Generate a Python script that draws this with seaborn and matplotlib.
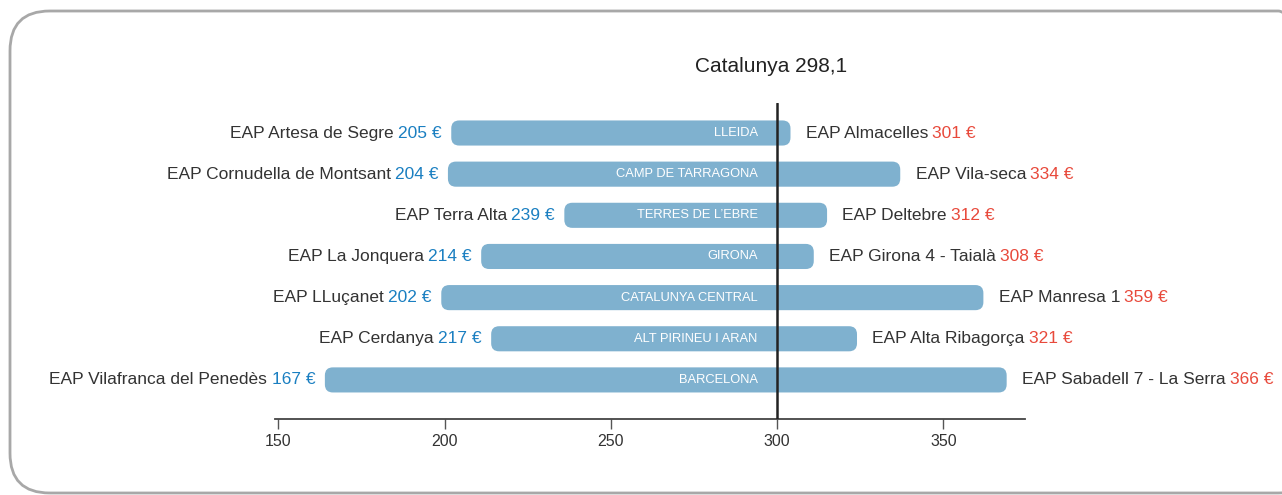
import matplotlib
matplotlib.use("Agg")
from matplotlib import pyplot as plt
from matplotlib.patches import FancyBboxPatch
import pandas as pd
import seaborn as sns

regions = ["LLEIDA", "CAMP DE TARRAGONA", "TERRES DE L\u2019EBRE", "GIRONA",
           "CATALUNYA CENTRAL", "ALT PIRINEU I ARAN", "BARCELONA"]
min_names = ["EAP Artesa de Segre", "EAP Cornudella de Montsant", "EAP Terra Alta",
             "EAP La Jonquera", "EAP LLuçanet", "EAP Cerdanya", "EAP Vilafranca del Penedès"]
min_vals = [205, 204, 239, 214, 202, 217, 167]
max_names = ["EAP Almacelles", "EAP Vila-seca", "EAP Deltebre", "EAP Girona 4 - Taialà",
             "EAP Manresa 1", "EAP Alta Ribagorça", "EAP Sabadell 7 - La Serra"]
max_vals = [301, 334, 312, 308, 359, 321, 366]
cat_label = "Catalunya 298,1"
cat_avg = 298.1
ref_line = 300
ticks = [150, 200, 250, 300, 350]

df = pd.DataFrame({"region": regions, "min_name": min_names, "min": min_vals,
                   "max_name": max_names, "max": max_vals})

sns.set_style("white")
plt.rcParams["font.family"] = ["Liberation Sans", "DejaVu Sans"]

bar_col = "#7fb1cf"
blue = "#1a7fc1"
red = "#e8493b"
dark = "#333333"
pad = 3

fig = plt.figure(figsize=(12.82, 4.95), dpi=100)
ax = fig.add_axes([0.2145, 0.1535, 0.585, 0.6385])

# rounded frame around the whole figure (runs past the right edge)
frame = FancyBboxPatch((10 / 1282, 2 / 495), 1308 / 1282, 482 / 495,
                       boxstyle="round,pad=0,rounding_size=0.031",
                       mutation_aspect=1282 / 495, transform=fig.transFigure,
                       fc="none", ec="#a8a8a8", lw=2, clip_on=False)
fig.patches.append(frame)

ax.set_xlim(149, 374.5)
ax.set_ylim(6.95, -0.73)

y = range(len(df))
bars = ax.barh(list(y), df["max"] - df["min"] + 2 * pad, left=df["min"] - pad,
               height=0.61, color=bar_col)
asp = 3.325 / 41.17
for b in bars:
    rb = FancyBboxPatch((b.get_x(), b.get_y()), b.get_width(), b.get_height(),
                        boxstyle="round,pad=0,rounding_size=2.4",
                        mutation_aspect=asp, fc=bar_col, ec="none", zorder=2)
    ax.add_patch(rb)
    b.remove()

ax.axvline(ref_line, color="#222222", lw=1.8, zorder=3)

fs = 12.5
for i, r in df.iterrows():
    lv = ax.annotate(f"{r['min']} €", xy=(r["min"] - pad, i), xytext=(-7, 0),
                     textcoords="offset points", ha="right", va="center",
                     color=blue, fontsize=fs, annotation_clip=False)
    ax.annotate(r["min_name"], xy=(0, 0.5), xycoords=lv, xytext=(-3, 0),
                textcoords="offset points", ha="right", va="center",
                color=dark, fontsize=fs, annotation_clip=False)
    rn = ax.annotate(r["max_name"], xy=(r["max"] + pad, i), xytext=(11, 0),
                     textcoords="offset points", ha="left", va="center",
                     color=dark, fontsize=fs, annotation_clip=False)
    ax.annotate(f"{r['max']} €", xy=(1, 0.5), xycoords=rn, xytext=(3, 0),
                textcoords="offset points", ha="left", va="center",
                color=red, fontsize=fs, annotation_clip=False)
    ax.annotate(r["region"], xy=(ref_line, i), xytext=(-14, 0),
                textcoords="offset points", ha="right", va="center",
                color="white", fontsize=9.3, zorder=4)

ax.annotate(cat_label, xy=(cat_avg, 1), xycoords=("data", "axes fraction"),
            xytext=(0, 26), textcoords="offset points", ha="center", va="center",
            color="#222222", fontsize=15, annotation_clip=False)

ax.set_xticks(ticks)
ax.set_yticks([])
ax.tick_params(axis="x", direction="out", length=7, width=1, color="#555555",
               labelsize=11.5, labelcolor=dark, pad=4, bottom=True)
for s in ["top", "left", "right"]:
    ax.spines[s].set_visible(False)
ax.spines["bottom"].set_color("#444444")
ax.spines["bottom"].set_linewidth(1.3)
ax.set_facecolor("none")

fig.savefig("out.png", dpi=100)
